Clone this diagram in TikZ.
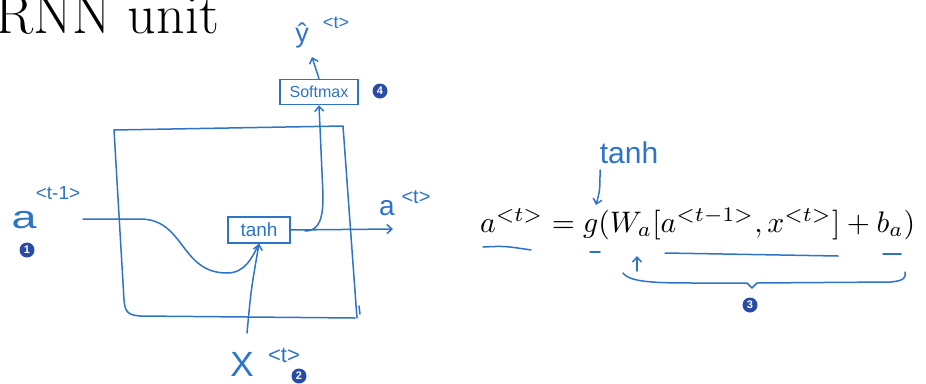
\documentclass[tikz,border=0pt]{standalone}
\usepackage{fontspec}
\usetikzlibrary{arrows.meta}
\newfontfamily\handfont{Liberation Sans}
\definecolor{ink}{RGB}{45,115,200}
\definecolor{circ}{RGB}{40,75,165}
\newcommand{\hsz}[1]{\handfont\fontsize{#1}{#1}\selectfont}
\begin{document}
\begin{tikzpicture}[x=1pt,y=-1pt,
  ink/.style={draw=ink,line width=1.5pt,line cap=round,line join=round},
  arr/.style={ink,-{Straight Barb[length=5pt,width=9pt]}},
  hand/.style={text=ink,inner sep=0pt},
  num/.style={circle,fill=circ,text=white,inner sep=0pt,minimum size=15pt,font=\hsz{11}\bfseries},
  cell/.style={draw=ink,line width=1.5pt,inner sep=0pt,text=ink}]
\useasboundingbox (0,0) rectangle (926,383);
% title
\node[anchor=base west,inner sep=0pt,font=\fontsize{56}{56}\selectfont] (title) at (-5,33) {RNN unit};
% big cell box
\draw[ink] (114,130) -- (343,126) -- (356,305) -- (357,318);
\draw[ink] (114,130) -- (124,300) .. controls (125,312) and (128,315) .. (140,316) -- (355,318);
\draw[ink] (359,306) -- (360,314);
% tanh and softmax boxes
\node[cell,minimum width=62pt,minimum height=26pt,font=\hsz{19}] (tanhbox) at (259,230) {tanh};
\node[cell,minimum width=78pt,minimum height=25pt,font=\hsz{16}] (soft) at (319,92) {Softmax};
% labels
\node[hand,font=\hsz{32},anchor=base] (aprev) at (24,228) {\scalebox{1.4}[1]{a}};
\node[hand,font=\hsz{19},anchor=base] (aprevsup) at (58,199) {<t-1>};
\node[num] (n1) at (27,250) {1};
\node[hand,font=\hsz{35},anchor=base] (xin) at (242,376) {X};
\node[hand,font=\hsz{22},anchor=base] (xinsup) at (284,362) {<t>};
\node[num] (n2) at (299,376) {2};
\node[hand,font=\hsz{28},anchor=base] (aout) at (387,215) {a};
\node[hand,font=\hsz{20},anchor=base] (aoutsup) at (416,203) {<t>};
\node[hand,font=\hsz{27},anchor=base] (yhat) at (302,42) {ŷ};
\node[hand,font=\hsz{18},anchor=base] (yhatsup) at (336,28) {<t>};
\node[num] (n4) at (380,91) {4};
% coordinates
\coordinate (ain) at (83,219);
\coordinate (xstart) at (247,333);
\coordinate (aend) at (393,229);
\coordinate (br) at (305,231);
\coordinate (yend) at (312,57);
% connectors
\draw[ink] (ain) -- (140,219) .. controls (185,219) and (180,273) .. (227,273) .. controls (245,273) and (252,258) .. (tanhbox.south);
\draw[arr] (xstart) .. controls (251,290) .. (tanhbox.south);
\draw[arr] (tanhbox.east) -- (aend);
\draw[arr] (br) .. controls (321,231) and (323,215) .. (323,195) -- (soft.south);
\draw[arr] (soft.north) -- (yend);
% equation
\node[anchor=west,inner sep=0pt] (eq) at (480,224) {\resizebox{435pt}{!}{$a^{<t>} = g(W_a[a^{<t-1>}, x^{<t>}] + b_a)$}};
\node[hand,font=\hsz{30}] (tanhlbl) at (629,153) {tanh};
\coordinate (tanhtip) at (596,205);
\draw[arr] (600,170) .. controls (600,190) .. (tanhtip);
\draw[ink] (483,247) .. controls (505,246) .. (531,250);
\draw[ink] (590,252) -- (600,252);
\coordinate (wtip) at (637,256);
\draw[arr] (637,271) -- (wtip);
\draw[ink] (665,253) -- (838,256);
\draw[ink] (883,254) -- (901,254);
\draw[ink] (623,273) .. controls (630,283) and (660,283) .. (700,283) -- (747,283) -- (752,288) -- (757,283) -- (890,282) .. controls (905,281) and (906,277) .. (905,272);
\node[num] (n3) at (750,305) {3};
\end{tikzpicture}
\end{document}
